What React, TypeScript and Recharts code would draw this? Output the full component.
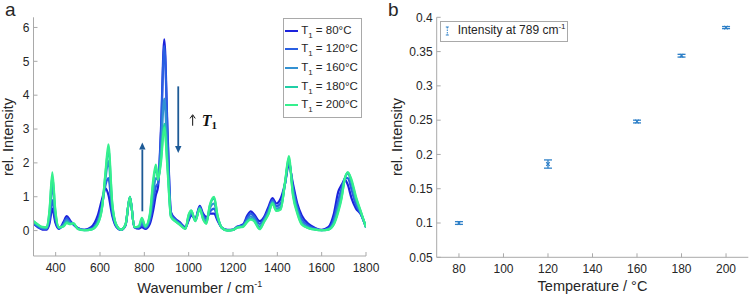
import React from 'react';
import {
  LineChart,
  Line,
  XAxis,
  YAxis,
  Legend,
  ReferenceLine,
  ReferenceDot,
  ComposedChart,
  Scatter,
  ErrorBar,
} from 'recharts';

const FONT = '"Liberation Sans", Arial, Helvetica, sans-serif';
const SERIF = '"Liberation Serif", "Times New Roman", serif';
const AXIS_COLOR = '#a9a9a9';
const TEXT_COLOR = '#262626';
const ARROW_COLOR = '#1d5a96';
const POINT_COLOR = '#2f80c8';

// ---- Panel a: Raman spectra (rel. intensity vs. wavenumber / cm-1) ----
const wavenumbers = [
  300, 320, 340, 360, 372, 385, 398, 415, 435, 450,
  465, 480, 500, 530, 560, 590, 610, 625, 638, 655,
  675, 695, 715, 735, 755, 775, 789, 805, 825, 840,
  852, 862, 875, 890, 905, 920, 940, 960, 985, 1000,
  1012, 1030, 1050, 1065, 1080, 1095, 1115, 1130, 1150, 1175,
  1200, 1220, 1245, 1265, 1280, 1295, 1320, 1340, 1360, 1378,
  1395, 1415, 1435, 1452, 1470, 1490, 1510, 1540, 1570, 1600,
  1630, 1655, 1675, 1690, 1705, 1718, 1735, 1755, 1775, 1800,
];

const intensity80 = [
  0.20, 0.10, 0.03, 0.03, 0.20, 0.65, 0.25, 0.05, 0.25, 0.43,
  0.30, 0.18, 0.08, 0.02, 0.10, 0.45, 0.95, 1.25, 1.05, 0.45,
  0.10, 0.02, 0.15, 0.98, 0.10, 0.06, 0.10, 0.05, 0.20, 0.60,
  1.05, 1.30, 3.00, 5.65, 2.90, 0.55, 0.35, 0.25, 0.10, 0.30,
  0.45, 0.35, 0.73, 0.50, 0.40, 0.50, 0.50, 0.30, 0.08, 0.02,
  0.03, 0.12, 0.18, 0.45, 0.57, 0.48, 0.28, 0.40, 0.70, 0.96,
  0.80, 0.95, 1.40, 1.95, 1.40, 0.80, 0.45, 0.20, 0.08, 0.02,
  0.10, 0.50, 1.15, 1.35, 1.50, 1.35, 0.95, 0.65, 0.50, 0.10,
];

const intensity120 = [
  0.22, 0.12, 0.05, 0.05, 0.30, 0.90, 0.35, 0.06, 0.20, 0.36,
  0.26, 0.18, 0.07, 0.02, 0.06, 0.32, 0.80, 1.35, 1.55, 0.55,
  0.12, 0.02, 0.16, 0.99, 0.10, 0.08, 0.19, 0.08, 0.30, 0.85,
  1.30, 1.40, 2.85, 5.45, 2.75, 0.50, 0.33, 0.22, 0.08, 0.35,
  0.50, 0.32, 0.70, 0.45, 0.35, 0.55, 0.65, 0.35, 0.08, 0.01,
  0.02, 0.11, 0.16, 0.38, 0.50, 0.42, 0.20, 0.35, 0.62, 0.90,
  0.72, 0.80, 1.40, 2.05, 1.30, 0.70, 0.35, 0.15, 0.06, 0.01,
  0.06, 0.35, 0.90, 1.25, 1.55, 1.55, 1.20, 0.75, 0.52, 0.10,
];

const intensity160 = [
  0.25, 0.15, 0.08, 0.07, 0.45, 1.30, 0.50, 0.08, 0.16, 0.30,
  0.22, 0.20, 0.06, 0.01, 0.04, 0.25, 0.75, 1.55, 2.05, 0.70,
  0.14, 0.03, 0.18, 1.00, 0.10, 0.10, 0.25, 0.10, 0.40, 1.10,
  1.55, 1.50, 2.35, 3.90, 2.15, 0.45, 0.30, 0.20, 0.06, 0.40,
  0.55, 0.30, 0.67, 0.40, 0.28, 0.65, 0.80, 0.40, 0.08, 0.01,
  0.02, 0.10, 0.14, 0.30, 0.42, 0.35, 0.12, 0.30, 0.55, 0.85,
  0.65, 0.70, 1.40, 2.10, 1.20, 0.60, 0.25, 0.10, 0.04, 0.01,
  0.04, 0.25, 0.70, 1.10, 1.55, 1.68, 1.40, 0.90, 0.55, 0.10,
];

const intensity180 = [
  0.27, 0.17, 0.10, 0.09, 0.55, 1.60, 0.60, 0.09, 0.13, 0.25,
  0.20, 0.21, 0.05, 0.01, 0.03, 0.22, 0.72, 1.70, 2.40, 0.80,
  0.15, 0.03, 0.18, 1.00, 0.10, 0.12, 0.34, 0.12, 0.45, 1.40,
  1.85, 1.55, 2.10, 3.15, 1.85, 0.42, 0.28, 0.18, 0.05, 0.45,
  0.58, 0.28, 0.65, 0.35, 0.22, 0.72, 0.95, 0.45, 0.08, 0.00,
  0.02, 0.09, 0.12, 0.28, 0.35, 0.30, 0.06, 0.27, 0.50, 0.82,
  0.60, 0.65, 1.42, 2.15, 1.10, 0.55, 0.20, 0.08, 0.03, 0.01,
  0.03, 0.20, 0.60, 1.00, 1.55, 1.72, 1.45, 0.95, 0.58, 0.10,
];

const intensity200 = [
  0.28, 0.18, 0.11, 0.10, 0.60, 1.72, 0.65, 0.10, 0.12, 0.22,
  0.19, 0.22, 0.05, 0.01, 0.03, 0.20, 0.70, 1.75, 2.55, 0.85,
  0.15, 0.03, 0.18, 1.00, 0.10, 0.13, 0.38, 0.13, 0.50, 1.50,
  1.95, 1.50, 2.00, 3.05, 1.75, 0.40, 0.27, 0.17, 0.05, 0.48,
  0.60, 0.28, 0.65, 0.33, 0.20, 0.75, 1.00, 0.45, 0.08, 0.00,
  0.02, 0.09, 0.11, 0.26, 0.32, 0.28, 0.04, 0.25, 0.48, 0.80,
  0.58, 0.62, 1.45, 2.20, 1.05, 0.50, 0.18, 0.07, 0.03, 0.01,
  0.03, 0.18, 0.55, 0.95, 1.55, 1.72, 1.50, 1.00, 0.60, 0.10,
];

const treatmentTemps = [80, 120, 160, 180, 200];
const spectra = [intensity80, intensity120, intensity160, intensity180, intensity200];
const spectrumColors = ['#1c22dc', '#2a5fe2', '#3391d2', '#1fcfa6', '#36f08e'];

const wavenumberTicks = [400, 600, 800, 1000, 1200, 1400, 1600, 1800];
const intensityTicks = [0, 1, 2, 3, 4, 5, 6];

// ---- Panel b: intensity of the 789 cm-1 band vs. treatment temperature ----
const bandTemps = [80, 120, 160, 180, 200];
const band789 = [0.1, 0.186, 0.248, 0.344, 0.385];
const band789Err = [0.002, 0.006, 0.002, 0.002, 0.0015];
const temperatureTicks = [80, 100, 120, 140, 160, 180, 200];
const relIntensityTicks = [0.05, 0.1, 0.15, 0.2, 0.25, 0.3, 0.35, 0.4];

const spectrumRows = wavenumbers.map((wn, i) => {
  const row: Record<string, number> = { wn };
  treatmentTemps.forEach((t, k) => {
    row[`t${t}`] = spectra[k][i];
  });
  return row;
});

const bandRows = bandTemps.map((t, i) => ({ temp: t, value: band789[i], err: band789Err[i] }));

const X_TICK_GAP = 7;
const Y_TICK_GAP = 4;
const TICK_LEN = 4;

function BottomTick(props: any) {
  const { x, y, payload } = props;
  const axisY = y - X_TICK_GAP;
  return (
    <g>
      <line x1={x} x2={x} y1={axisY} y2={axisY - TICK_LEN} stroke={AXIS_COLOR} />
      <text x={x} y={y} dy="0.71em" textAnchor="middle" fill={TEXT_COLOR} fontSize={12} fontFamily={FONT}>
        {payload.value}
      </text>
    </g>
  );
}

function LeftTick(props: any) {
  const { x, y, payload } = props;
  const axisX = x + Y_TICK_GAP;
  return (
    <g>
      <line x1={axisX} x2={axisX + TICK_LEN} y1={y} y2={y} stroke={AXIS_COLOR} />
      <text x={x} y={y} dy="0.355em" textAnchor="end" fill={TEXT_COLOR} fontSize={12} fontFamily={FONT}>
        {payload.value}
      </text>
    </g>
  );
}

function Arrow(props: any) {
  const { x1, y1, x2, y2 } = props;
  // head sits at (x2, y2)
  const dir = y2 < y1 ? -1 : 1;
  const headLen = 7;
  const half = 3.2;
  const baseY = y2 - dir * headLen;
  return (
    <g>
      <line x1={x1} y1={y1} x2={x2} y2={baseY} stroke={ARROW_COLOR} strokeWidth={1.8} />
      <path d={`M${x2},${y2} L${x2 - half},${baseY} L${x2 + half},${baseY} Z`} fill={ARROW_COLOR} />
    </g>
  );
}

// "↑ T1" note: a thin upward arrow followed by bold italic T with subscript 1
function TrendNote(props: any) {
  const { cx, cy } = props;
  return (
    <g>
      <line x1={cx} x2={cx} y1={cy + 5.5} y2={cy - 4.5} stroke="#111" strokeWidth={1} />
      <path d={`M${cx - 2.6},${cy - 1.8} L${cx},${cy - 5.5} L${cx + 2.6},${cy - 1.8}`} stroke="#111" strokeWidth={1} fill="none" />
      <text x={cx + 9} y={cy + 6} fontFamily={SERIF} fill="#111">
        <tspan fontSize={16} fontWeight="bold" fontStyle="italic">T</tspan>
        <tspan fontSize={11} fontWeight="bold" dy={3}>1</tspan>
      </text>
    </g>
  );
}

function BandMarker(props: any) {
  const { cx, cy } = props;
  const s = 1.8;
  return (
    <path
      d={`M${cx - s},${cy - s}L${cx + s},${cy + s}M${cx - s},${cy + s}L${cx + s},${cy - s}`}
      stroke={POINT_COLOR}
      strokeWidth={1.1}
      fill="none"
    />
  );
}

function SpectraLegend() {
  return (
    <div
      style={{
        width: 79,
        height: 100,
        boxSizing: 'border-box',
        border: `1px solid ${AXIS_COLOR}`,
        background: '#fff',
        paddingTop: 2,
        fontFamily: FONT,
        fontSize: 11.5,
        color: TEXT_COLOR,
      }}
    >
      {treatmentTemps.map((t, k) => (
        <div key={t} style={{ height: 18.7, display: 'flex', alignItems: 'center' }}>
          <svg width={16} height={4} style={{ marginLeft: 1.5, flex: 'none' }}>
            <line x1={0} x2={13} y1={2} y2={2} stroke={spectrumColors[k]} strokeWidth={2} />
          </svg>
          <span style={{ whiteSpace: 'nowrap', lineHeight: '12px' }}>
            T<span style={{ fontSize: 8, position: 'relative', top: 4 }}>1</span> = {t}°C
          </span>
        </div>
      ))}
    </div>
  );
}

function BandLegend() {
  return (
    <div
      style={{
        width: 128,
        height: 21,
        boxSizing: 'border-box',
        border: `1px solid ${AXIS_COLOR}`,
        background: '#fff',
        display: 'flex',
        alignItems: 'center',
        fontFamily: FONT,
        fontSize: 12,
        color: TEXT_COLOR,
      }}
    >
      <svg width={13.7} height={12} style={{ marginLeft: 3, flex: 'none' }}>
        <line x1={3.3} x2={3.3} y1={2} y2={10} stroke={POINT_COLOR} strokeWidth={1} strokeDasharray="1.5 1" />
        <line x1={1.8} x2={4.8} y1={2} y2={2} stroke={POINT_COLOR} strokeWidth={1} />
        <line x1={1.8} x2={4.8} y1={10} y2={10} stroke={POINT_COLOR} strokeWidth={1} />
      </svg>
      <span style={{ whiteSpace: 'nowrap', lineHeight: '14px' }}>
        Intensity at 789 cm<span style={{ fontSize: 8, position: 'relative', top: -5 }}>-1</span>
      </span>
    </div>
  );
}

function Titles() {
  return (
    <svg
      width={749}
      height={297}
      style={{ position: 'absolute', left: 0, top: 0, pointerEvents: 'none' }}
      fontFamily={FONT}
      fill={TEXT_COLOR}
    >
      <text x={5} y={16} fontSize={19}>a</text>
      <text x={388} y={16} fontSize={19}>b</text>
      <text x={199.8} y={292.5} fontSize={14.5} textAnchor="middle">
        Wavenumber / cm<tspan fontSize={9} dy={-6}>-1</tspan>
      </text>
      <text x={592.5} y={291} fontSize={14.5} textAnchor="middle">
        Temperature / °C
      </text>
      <text x={13} y={137} fontSize={14.5} textAnchor="middle" transform="rotate(-90, 13, 137)">
        rel. Intensity
      </text>
      <text x={402} y={137} fontSize={14.5} textAnchor="middle" transform="rotate(-90, 402, 137)">
        rel. Intensity
      </text>
    </svg>
  );
}

export default function App() {
  return (
    <div
      style={{
        position: 'absolute',
        left: 0,
        top: 0,
        width: 749,
        height: 297,
        background: '#fff',
        overflow: 'hidden',
      }}
    >
      <div style={{ position: 'absolute', left: 0, top: 0 }}>
        <LineChart
          width={390}
          height={297}
          data={spectrumRows}
          margin={{ top: 17.3, right: 24, bottom: 0, left: 0 }}
        >
          <XAxis
            dataKey="wn"
            type="number"
            domain={[300, 1800]}
            ticks={wavenumberTicks}
            interval={0}
            allowDataOverflow
            height={41}
            stroke={AXIS_COLOR}
            tickLine={false}
            tickSize={0}
            tickMargin={X_TICK_GAP}
            tick={<BottomTick />}
          />
          <XAxis
            xAxisId="top"
            orientation="top"
            type="number"
            domain={[300, 1800]}
            ticks={wavenumberTicks}
            interval={0}
            allowDataOverflow
            height={0}
            mirror
            tick={false}
            tickSize={TICK_LEN}
            stroke={AXIS_COLOR}
          />
          <YAxis
            type="number"
            domain={[-0.75, 6.3]}
            ticks={intensityTicks}
            interval={0}
            allowDataOverflow
            width={33.5}
            stroke={AXIS_COLOR}
            tickLine={false}
            tickSize={0}
            tickMargin={Y_TICK_GAP}
            tick={<LeftTick />}
          />
          <YAxis
            yAxisId="right"
            orientation="right"
            type="number"
            domain={[-0.75, 6.3]}
            ticks={intensityTicks}
            interval={0}
            allowDataOverflow
            width={0}
            mirror
            tick={false}
            tickSize={TICK_LEN}
            stroke={AXIS_COLOR}
          />
          {treatmentTemps.map((t, k) => (
            <Line
              key={t}
              dataKey={`t${t}`}
              name={`T1 = ${t}°C`}
              type="monotone"
              stroke={spectrumColors[k]}
              strokeWidth={2.2}
              dot={false}
              activeDot={false}
              isAnimationActive={false}
            />
          ))}
          <ReferenceLine
            segment={[{ x: 791, y: 0.57 }, { x: 791, y: 2.6 }]}
            shape={(p: any) => <Arrow {...p} />}
          />
          <ReferenceLine
            segment={[{ x: 953, y: 4.26 }, { x: 953, y: 2.29 }]}
            shape={(p: any) => <Arrow {...p} />}
          />
          <ReferenceDot x={1018} y={3.26} r={0} shape={(p: any) => <TrendNote {...p} />} />
          <Legend
            layout="horizontal"
            align="center"
            verticalAlign="middle"
            content={() => <SpectraLegend />}
            wrapperStyle={{ left: 282.7, top: 18.3, width: 79, height: 100 }}
          />
        </LineChart>
      </div>
      <div style={{ position: 'absolute', left: 370, top: 0 }}>
        <ComposedChart
          width={379}
          height={297}
          data={bandRows}
          margin={{ top: 17.3, right: 0.7, bottom: 0, left: 0 }}
        >
          <XAxis
            dataKey="temp"
            type="number"
            domain={[70, 210]}
            ticks={temperatureTicks}
            interval={0}
            allowDataOverflow
            height={39.7}
            stroke={AXIS_COLOR}
            tickLine={false}
            tickSize={0}
            tickMargin={X_TICK_GAP}
            tick={<BottomTick />}
          />
          <XAxis
            xAxisId="top"
            orientation="top"
            type="number"
            domain={[70, 210]}
            ticks={temperatureTicks}
            interval={0}
            allowDataOverflow
            height={0}
            mirror
            tick={false}
            tickSize={TICK_LEN}
            stroke={AXIS_COLOR}
          />
          <YAxis
            type="number"
            domain={[0.05, 0.4]}
            ticks={relIntensityTicks}
            interval={0}
            allowDataOverflow
            width={66.7}
            stroke={AXIS_COLOR}
            tickLine={false}
            tickSize={0}
            tickMargin={Y_TICK_GAP}
            tick={<LeftTick />}
          />
          <YAxis
            yAxisId="right"
            orientation="right"
            type="number"
            domain={[0.05, 0.4]}
            ticks={relIntensityTicks}
            interval={0}
            allowDataOverflow
            width={0}
            mirror
            tick={false}
            tickSize={TICK_LEN}
            stroke={AXIS_COLOR}
          />
          <Scatter
            dataKey="value"
            name="Intensity at 789 cm-1"
            fill={POINT_COLOR}
            shape={(p: any) => <BandMarker {...p} />}
            isAnimationActive={false}
          >
            <ErrorBar
              dataKey="err"
              direction="y"
              width={4}
              stroke={POINT_COLOR}
              strokeWidth={1.3}
              isAnimationActive={false}
            />
          </Scatter>
          <Legend
            layout="horizontal"
            align="center"
            verticalAlign="middle"
            content={() => <BandLegend />}
            wrapperStyle={{ left: 70, top: 20.7, width: 128, height: 21 }}
          />
        </ComposedChart>
      </div>
      <Titles />
    </div>
  );
}
